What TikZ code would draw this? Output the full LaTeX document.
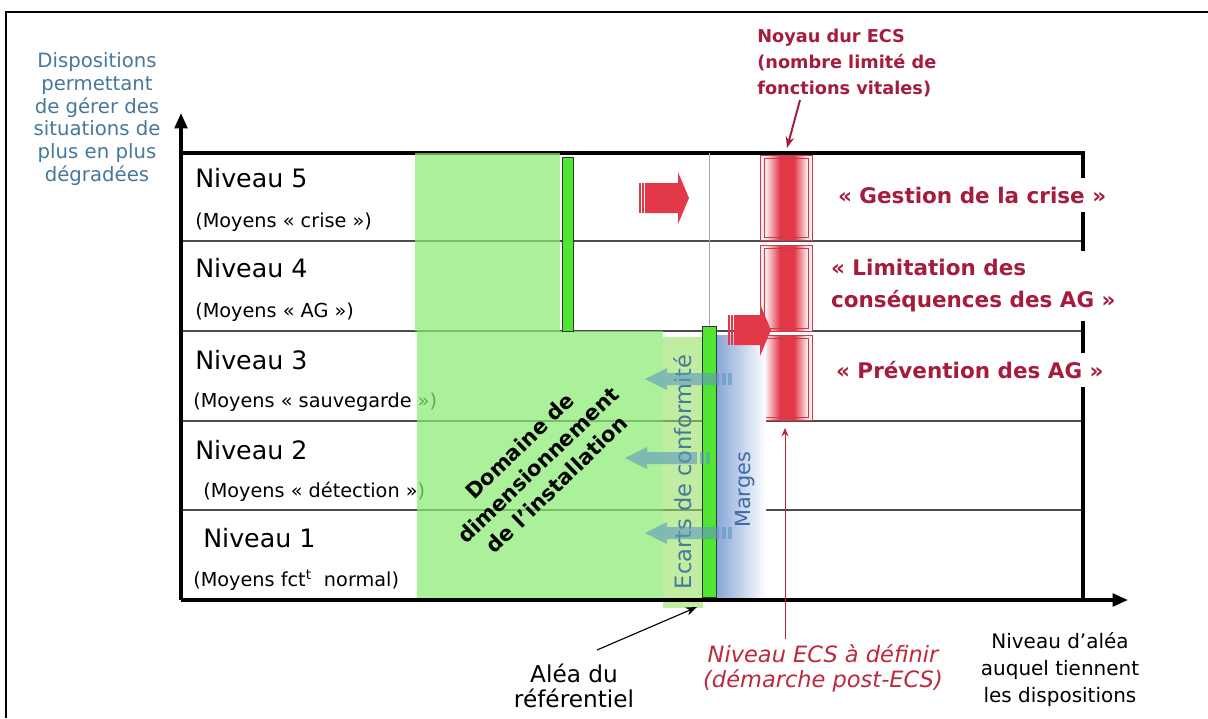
\documentclass[tikz,border=0pt]{standalone}
\usepackage{fontspec}
\setmainfont{DejaVu Sans}
\usetikzlibrary{arrows.meta}

\definecolor{crimson}{RGB}{165,28,60}
\definecolor{ecsred}{RGB}{190,40,60}
\definecolor{steel}{RGB}{70,120,155}
\definecolor{lgreen}{RGB}{139,235,115}
\definecolor{zgreen}{RGB}{150,225,100}
\definecolor{bgreen}{RGB}{80,230,50}
\definecolor{arrowred}{RGB}{226,56,72}
\definecolor{pinkish}{RGB}{251,232,234}
\definecolor{coreline}{RGB}{200,60,80}
\definecolor{marge}{RGB}{135,165,215}
\definecolor{bluearrow}{RGB}{95,150,190}

\begin{document}
\begin{tikzpicture}[x=0.025cm, y=-0.025cm,
    >={Stealth[length=8pt, width=6pt]},
    axis/.style      = {line width=2.4pt, -{Triangle[length=11pt, width=9pt]}},
    sep/.style       = {line width=0.9pt, black!70},
    niv/.style       = {anchor=west, inner sep=0pt, font=\fontsize{18}{21}\selectfont},
    moy/.style       = {anchor=west, inner sep=0pt, font=\fontsize{13.7}{16}\selectfont},
    goal/.style      = {anchor=west, fill=white, inner xsep=2pt, inner ysep=6pt,
                        align=left, text=crimson,
                        font=\bfseries\fontsize{15.3}{22.8}\selectfont},
    core/.style      = {draw=coreline, line width=0.7pt},
    bar/.style       = {fill=bgreen, draw=black!80, line width=0.6pt},
    greenzone/.style = {fill=lgreen, fill opacity=0.72},
    backarrow/.style = {fill=bluearrow, fill opacity=0.6},
    pusharrow/.style = {fill=arrowred}
]
\useasboundingbox (0,0) rectangle (1208,718);

% Outer frame
\draw[line width=1.4pt] (6,718) -- (6,12) -- (1208,12);

% Level rows
\coordinate (origin) at (181,600);
\coordinate (ytip)   at (181,113);
\coordinate (xtip)   at (1128,600);
\foreach \y in {241,331,421,510}
    \draw[sep] (181,\y) -- (1083,\y);

\foreach \n/\y in {5/178, 4/268, 3/360, 2/450}
    \node[niv] (niv\n) at (195,\y) {Niveau \n};
\node[niv] (niv1) at (203,538) {Niveau 1};
\node[moy] (moy5) at (195,222) {(Moyens « crise »)};
\node[moy] (moy4) at (195,312) {(Moyens « AG »)};
\node[moy] (moy3) at (193,402) {(Moyens « sauvegarde »)};
\node[moy] (moy2) at (203,492) {(Moyens « détection »)};
\node[moy] (moy1) at (193,580) {(Moyens fct\textsuperscript{t}\ \ normal)};

% Red hard core column
\foreach \t/\b in {155/240, 245/331, 335/420} {
    \fill[pinkish] (760,\t) rectangle (812,\b);
    \shade[left color=pinkish, right color=arrowred] (766,\t) rectangle (780,\b);
    \fill[arrowred] (780,\t) rectangle (794,\b);
    \shade[left color=arrowred, right color=pinkish] (794,\t) rectangle (807,\b);
    \draw[core] (760,\t) rectangle (812,\b);
    \draw[core] (764,\t+3) rectangle (808,\b-3);
}

% Frame of the levels
\draw[line width=2.2pt] (181,153) -| (1083,600);

% Design domain
\fill[greenzone] (415,153) rectangle (560,331);
\fill[greenzone] (417,331) rectangle (663,600);
\fill[zgreen, fill opacity=0.6] (663,337) rectangle (703,608);
\shade[left color=marge, right color=white] (716,335) rectangle (766,598);
\draw[black!35, line width=0.5pt] (709,153) -- (709,326);
\draw[bar] (562,157) rectangle (573,331);
\draw[bar] (702,326) rectangle (716,597);

\node[rotate=44, align=center, inner sep=0pt,
      font=\bfseries\fontsize{15}{19}\selectfont] (domaine) at (538,465)
    {Domaine de\\dimensionnement\\de l’installation};
\node[rotate=90, inner sep=0pt, text=steel,
      font=\fontsize{16}{18}\selectfont] (ecarts) at (683,472) {Ecarts de conformité};
\node[rotate=90, inner sep=0pt, text=steel!90!blue,
      font=\fontsize{14.8}{17}\selectfont] (marges) at (745,490) {Marges};

% Arrows back into the domain
\foreach \t/\e/\y in {645/732/379, 625/710/458, 645/732/533} {
    \fill[backarrow] (\t,\y) -- (\t+22,\y-11) -- (\t+22,\y-6) -- (\e-13,\y-6)
        -- (\e-13,\y+6) -- (\t+22,\y+6) -- (\t+22,\y+11) -- cycle;
    \fill[backarrow] (\e-10,\y-6) rectangle (\e-6,\y+6);
    \fill[backarrow] (\e-4,\y-6) rectangle (\e,\y+6);
}

% Arrows towards the hard core
\foreach \s/\b/\t/\y in {639/678/689/198, 728/760/771/330} {
    \fill[pusharrow] (\t,\y) -- (\b,\y-26) -- (\b,\y-15) -- (\s+6,\y-15)
        -- (\s+6,\y+15) -- (\b,\y+15) -- (\b,\y+26) -- cycle;
    \fill[pusharrow] (\s,\y-15) rectangle (\s+2,\y+15);
    \fill[pusharrow] (\s+3,\y-15) rectangle (\s+5,\y+15);
}

% Axes
\draw[axis] (origin) -- (ytip);
\draw[axis] (origin) -- (xtip);
\node[align=center, text=steel, font=\fontsize{14}{16.2}\selectfont] (ylabel) at (97,119)
    {Dispositions\\permettant\\de gérer des\\situations de\\plus en plus\\dégradées};
\node[align=center, font=\fontsize{14.2}{19.2}\selectfont] (xlabel) at (1060,670)
    {Niveau d’aléa\\auquel tiennent\\les dispositions};

% Goals of each level
\node[goal] (crise)  at (835,195) {« Gestion de la crise »};
\node[goal] (limite) at (828,286) {« Limitation des\\conséquences des AG »};
\node[goal] (prev)   at (833,370) {« Prévention des AG »};

% Annotations
\node[align=left, anchor=north west, inner sep=0pt, text=crimson,
      font=\bfseries\fontsize{12.6}{18.5}\selectfont] (noyau) at (757,29)
    {Noyau dur ECS\\(nombre limité de\\fonctions vitales)};
\coordinate (noyaufrom) at (800,100);
\coordinate (noyautip)  at (787,148);
\draw[->, crimson, line width=1.4pt] (noyaufrom) -- (noyautip);

\node[align=center, text=ecsred, font=\itshape\fontsize{16}{17.8}\selectfont] (ecs)
    at (823,668) {Niveau ECS à définir\\(démarche post-ECS)};
\coordinate (ecstop) at (785,428);
\draw[-{Stealth[length=6pt, width=5pt]}, ecsred, line width=0.7pt]
    (ecs.north -| ecstop) -- (ecstop);

\node[align=center, font=\fontsize{16.5}{17.8}\selectfont] (alea) at (574,686)
    {Aléa du\\référentiel};
\coordinate (aleafrom) at (597,650);
\coordinate (aleatip)  at (697,607);
\draw[->, line width=0.8pt] (aleafrom) -- (aleatip);

\end{tikzpicture}
\end{document}
